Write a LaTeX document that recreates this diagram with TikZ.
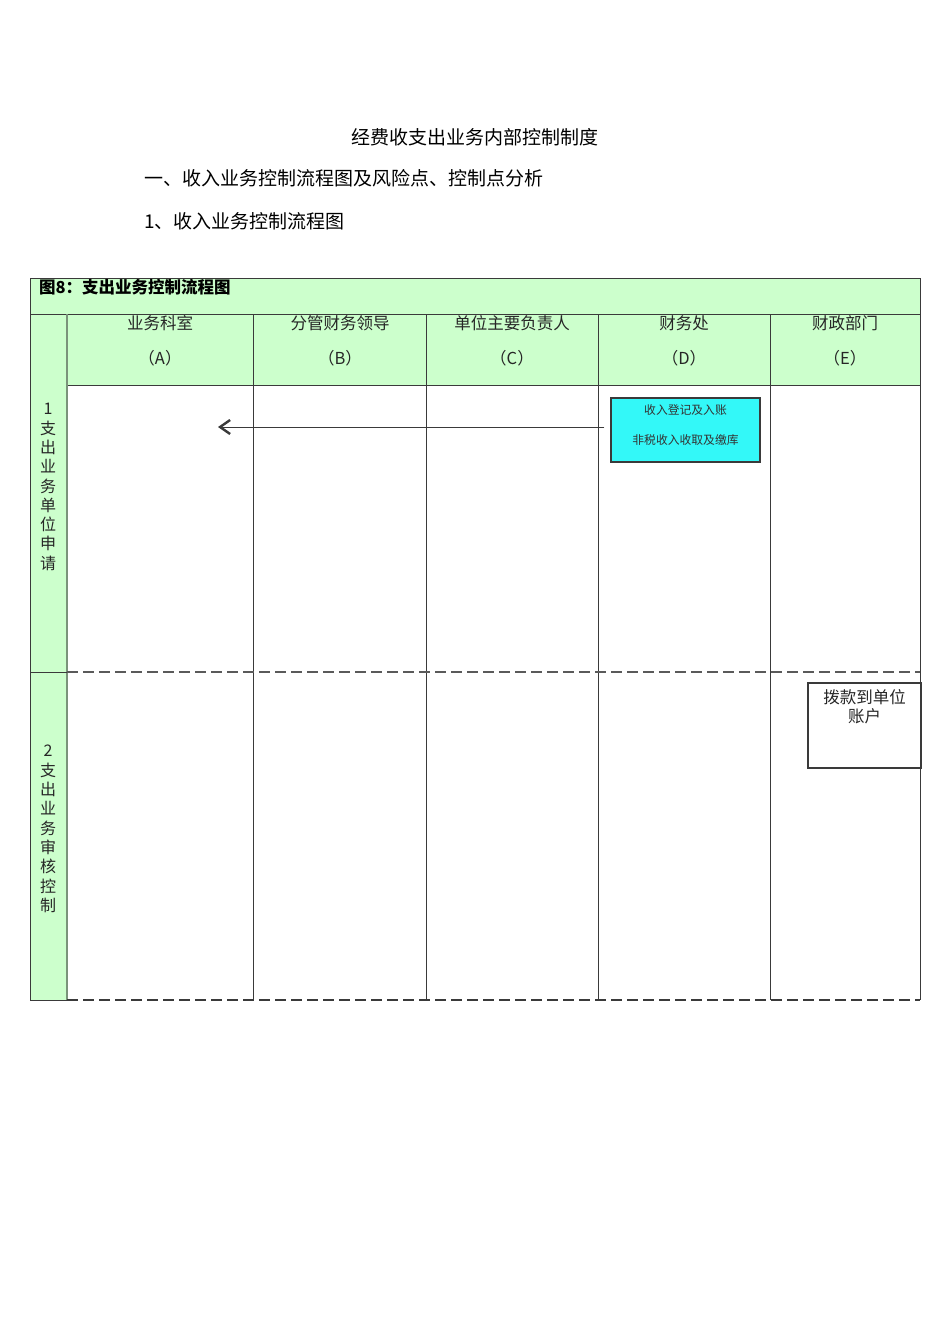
\documentclass[tikz,border=0pt]{standalone}
\usepackage{fontspec}
\setmainfont{Noto Sans CJK SC}
\usetikzlibrary{arrows.meta}
\definecolor{hdrgreen}{HTML}{CCFFCC}
\definecolor{boxcyan}{HTML}{33F8F8}
\definecolor{linegray}{HTML}{3A3A3A}
\definecolor{sidegray}{HTML}{7A937A}
\definecolor{dashgray}{HTML}{5A5A5A}
\begin{document}
\begin{tikzpicture}[x=1pt,y=-1pt,
  toptext/.style={font=\fontsize{19}{19}\selectfont, text=black, inner sep=0pt},
  hdrtext/.style={font=\fontsize{16.5}{16.5}\selectfont, text=black!85, inner sep=0pt},
  sidetext/.style={font=\fontsize{16}{19.3}\selectfont, text=black!85, align=center, inner sep=0pt},
  grid/.style={draw=linegray, line width=0.8pt},
  dashline/.style={draw=dashgray, line width=1.2pt, dash pattern=on 11pt off 5pt},
  dashdark/.style={draw=linegray, line width=1.2pt, dash pattern=on 11pt off 5pt},
  cyanbox/.style={draw=linegray, line width=1.4pt, fill=boxcyan, minimum width=149pt, minimum height=64pt, inner sep=0pt},
  plainbox/.style={draw=linegray, line width=1.2pt, minimum width=113pt, minimum height=85pt, inner sep=0pt},
  flowarrow/.style={draw=linegray, line width=0.9pt, -{Straight Barb[length=10pt,width=14pt,line width=2.4pt]}}
]
\useasboundingbox (0,0) rectangle (950,1344);
\fill[white] (0,0) rectangle (950,1344);

% top texts
\node[toptext] (t1) at (475,137) {经费收支出业务内部控制制度};
\node[toptext, anchor=west] (t2) at (144,178) {一、收入业务控制流程图及风险点、控制点分析};
\node[toptext, anchor=west] (t3) at (144,221) {1、收入业务控制流程图};

% green areas
\fill[hdrgreen] (30,278) rectangle (920,385);
\fill[hdrgreen] (30,314) rectangle (67,1000);

% grid lines
\draw[grid] (30,278) -- (920,278);
\draw[grid] (30,278) -- (30,1000);
\draw[grid] (920,278) -- (920,1000);
\draw[grid] (30,314) -- (920,314);
\draw[grid] (67,385) -- (920,385);
\foreach \x in {253,426,598,770}{\draw[grid] (\x,314) -- (\x,1000);}
\draw[draw=sidegray, line width=1.4pt] (67,314) -- (67,1000);
\draw[grid] (30,672) -- (67,672);
\draw[dashline] (67,672) -- (920,672);
\draw[grid] (30,1000) -- (67,1000);
\draw[dashdark] (67,1000) -- (920,1000);

% figure title
\node[anchor=west, inner sep=0pt, font=\fontsize{16.5}{16.5}\selectfont\bfseries] (ftitle) at (39,287) {图8：支出业务控制流程图};

% column headers
\node[hdrtext] (hA) at (160,323) {业务科室};
\node[hdrtext] (hA2) at (160,358) {（A）};
\node[hdrtext] (hB) at (340,323) {分管财务领导};
\node[hdrtext] (hB2) at (340,358) {（B）};
\node[hdrtext] (hC) at (512,323) {单位主要负责人};
\node[hdrtext] (hC2) at (512,358) {（C）};
\node[hdrtext] (hD) at (684,323) {财务处};
\node[hdrtext] (hD2) at (684,358) {（D）};
\node[hdrtext] (hE) at (845,323) {财政部门};
\node[hdrtext] (hE2) at (845,358) {（E）};

% side labels
\node[sidetext] (s1) at (48,487) {1\\支\\出\\业\\务\\单\\位\\申\\请};
\node[sidetext] (s2) at (48,829) {2\\支\\出\\业\\务\\审\\核\\控\\制};

% boxes
\node[cyanbox] (D) at (685.5,430) {};
\node[inner sep=0pt, font=\fontsize{11.8}{11.8}\selectfont, text=black!80] (Dt1) at (685.5,410) {收入登记及入账};
\node[inner sep=0pt, font=\fontsize{11.8}{11.8}\selectfont, text=black!80] (Dt2) at (685.5,440) {非税收入收取及缴库};

\node[plainbox] (E) at (864.5,725.5) {};
\node[anchor=north, inner sep=0pt, align=center, font=\fontsize{16.5}{19}\selectfont, text=black!85] (Et) at ([yshift=-7pt]E.north) {拨款到单位\\账户};

% arrow
\coordinate (aend) at (218,427);
\draw[flowarrow] ([xshift=-6pt,yshift=3pt]D.west) -- (aend);
\end{tikzpicture}
\end{document}
